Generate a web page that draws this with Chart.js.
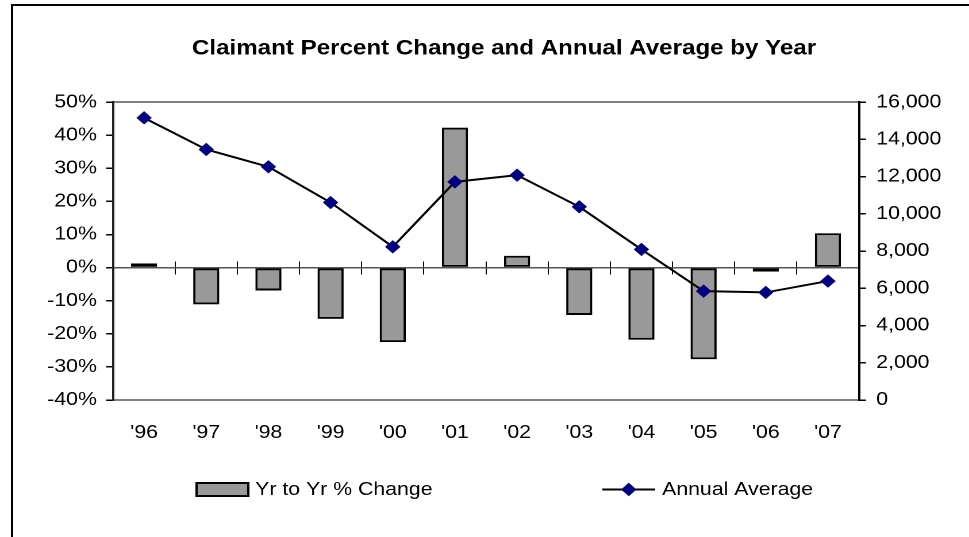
<!DOCTYPE html>
<html>
<head>
<meta charset="utf-8">
<script src="https://cdn.jsdelivr.net/npm/chart.js@4/dist/chart.umd.min.js"></script>
<style>
    html, body { margin: 0; padding: 0; background: #fff; overflow: hidden; }
    body { width: 969px; height: 537px; position: relative; }
    #frame {
        position: absolute; left: 11px; top: 4px; width: 2000px; height: 2000px;
        border-left: 2px solid #000; border-top: 2px solid #000;
    }
    /* the original picture is a bit wider than tall, so draw narrow and stretch */
    #wrap {
        position: absolute; left: 0; top: 0; width: 843px; height: 537px;
        transform: scaleX(1.1495); transform-origin: 0 0;
    }
</style>
</head>
<body>
<div id="frame"></div>
<div id="wrap"><canvas id="chart"></canvas></div>
<script>
// --- DADOS ---
const years = ["'96", "'97", "'98", "'99", "'00", "'01", "'02", "'03", "'04", "'05", "'06", "'07"];
const pctChange = [1.3, -11.1, -6.9, -15.5, -22.5, 42.3, 3.6, -14.3, -21.8, -27.7, -1.2, 10.4];
const annualAvg = [15160, 13460, 12530, 10610, 8230, 11720, 12080, 10380, 8090, 5850, 5780, 6390];

const pctTicks = { min: -40, max: 50, step: 10 };
const avgTicks = { min: 0, max: 16000, step: 2000 };

const FONT = '"Liberation Sans", Arial, sans-serif';

// legenda no estilo do Excel: caixa para as barras, linha com losango para a série
const excelLegend = {
    id: 'excelLegend',
    afterDraw(chart) {
        const ctx = chart.ctx;
        const bars = chart.data.datasets.find(d => d.type === 'bar');
        const line = chart.data.datasets.find(d => d.type === 'line');
        ctx.save();
        ctx.font = `18.5px ${FONT}`;
        ctx.textBaseline = 'middle';

        ctx.fillStyle = bars.backgroundColor;
        ctx.fillRect(170, 482, 47, 15);
        ctx.strokeStyle = bars.borderColor;
        ctx.lineWidth = 2;
        ctx.strokeRect(171, 483, 45, 13);
        ctx.fillStyle = '#000';
        ctx.fillText(bars.label, 222, 490);

        ctx.strokeStyle = line.borderColor;
        ctx.lineWidth = 2;
        ctx.beginPath();
        ctx.moveTo(524, 489.5);
        ctx.lineTo(570, 489.5);
        ctx.stroke();
        ctx.fillStyle = line.pointBackgroundColor;
        ctx.strokeStyle = line.pointBorderColor;
        ctx.lineWidth = 1;
        Chart.helpers.drawPoint(ctx, { pointStyle: 'rectRot', radius: 6, borderWidth: 1 }, 547, 489.5);
        ctx.fillStyle = '#000';
        ctx.fillText(line.label, 576, 490);
        ctx.restore();
    }
};

const hiddenAxis = (extra) => Object.assign({
    type: 'category',
    offset: true,
    ticks: { display: false },
    afterFit: (scale) => { scale.height = 0; }
}, extra);

new Chart(document.getElementById('chart'), {
    data: {
        labels: years,
        datasets: [
            {
                type: 'line',
                label: 'Annual Average',
                data: annualAvg,
                yAxisID: 'yAvg',
                xAxisID: 'x',
                borderColor: '#000000',
                borderWidth: 2,
                tension: 0,
                pointStyle: 'rectRot',
                pointRadius: 6,
                pointBackgroundColor: '#000080',
                pointBorderColor: '#000080',
                pointBorderWidth: 1,
                order: 0,
            },
            {
                type: 'bar',
                label: 'Yr to Yr % Change',
                data: pctChange,
                yAxisID: 'yPct',
                xAxisID: 'x',
                backgroundColor: '#999999',
                borderColor: '#000000',
                borderWidth: 2,
                borderSkipped: false,
                barPercentage: 0.42,
                categoryPercentage: 1,
                order: 1,
            }
        ]
    },
    options: {
        responsive: true,
        maintainAspectRatio: false,
        animation: false,
        devicePixelRatio: 2,
        layout: { padding: { left: 34, right: 0, top: 0, bottom: 0 } },
        plugins: {
            legend: { display: false },
            tooltip: { enabled: false },
            title: {
                display: true,
                text: 'Claimant Percent Change and Annual Average by Year',
                color: '#000',
                font: { family: FONT, size: 21, weight: 'bold' },
                padding: { top: 36, bottom: 41 },
            },
        },
        scales: {
            x: {
                type: 'category',
                position: 'bottom',
                offset: true,
                grid: { display: true, drawOnChartArea: false, drawTicks: false, offset: true },
                border: { color: '#808080', width: 2 },
                ticks: { color: '#000', font: { family: FONT, size: 18.5 }, padding: 22, maxRotation: 0 },
                afterFit: (scale) => { scale.height = 137; },
            },
            // borda superior da área do gráfico
            xTop: hiddenAxis({
                position: 'top',
                grid: { display: true, drawOnChartArea: false, drawTicks: false },
                border: { color: '#808080', width: 2 },
            }),
            // linha do zero com marcas cruzando
            xZero: hiddenAxis({
                position: { yPct: 0 },
                grid: { display: true, drawOnChartArea: false, tickLength: 6, color: '#000', lineWidth: 1, offset: true },
                border: { color: '#555', width: 1.5 },
            }),
            xZeroUp: hiddenAxis({
                position: { yPct: 0 },
                grid: { display: true, drawOnChartArea: false, tickLength: -6, color: '#000', lineWidth: 1, offset: true },
                border: { display: false },
            }),
            yPct: {
                type: 'linear',
                position: 'left',
                min: pctTicks.min,
                max: pctTicks.max,
                grid: { drawOnChartArea: false, tickLength: 6, color: '#000', lineWidth: 1.5 },
                border: { color: '#222', width: 2 },
                ticks: {
                    stepSize: pctTicks.step,
                    color: '#000',
                    font: { family: FONT, size: 18.5 },
                    padding: 8,
                    callback: (v) => v + '%',
                },
                afterFit: (scale) => { scale.width = 64.3; },
            },
            yAvg: {
                type: 'linear',
                position: 'right',
                min: avgTicks.min,
                max: avgTicks.max,
                grid: { drawOnChartArea: false, tickLength: 6, color: '#000', lineWidth: 1.5 },
                border: { color: '#000', width: 2 },
                ticks: {
                    stepSize: avgTicks.step,
                    color: '#000',
                    font: { family: FONT, size: 18.5 },
                    padding: 9,
                    callback: (v) => v.toLocaleString('en-US'),
                },
                afterFit: (scale) => { scale.width = 95.7; },
            },
        },
    },
    plugins: [excelLegend],
});
</script>
</body>
</html>
